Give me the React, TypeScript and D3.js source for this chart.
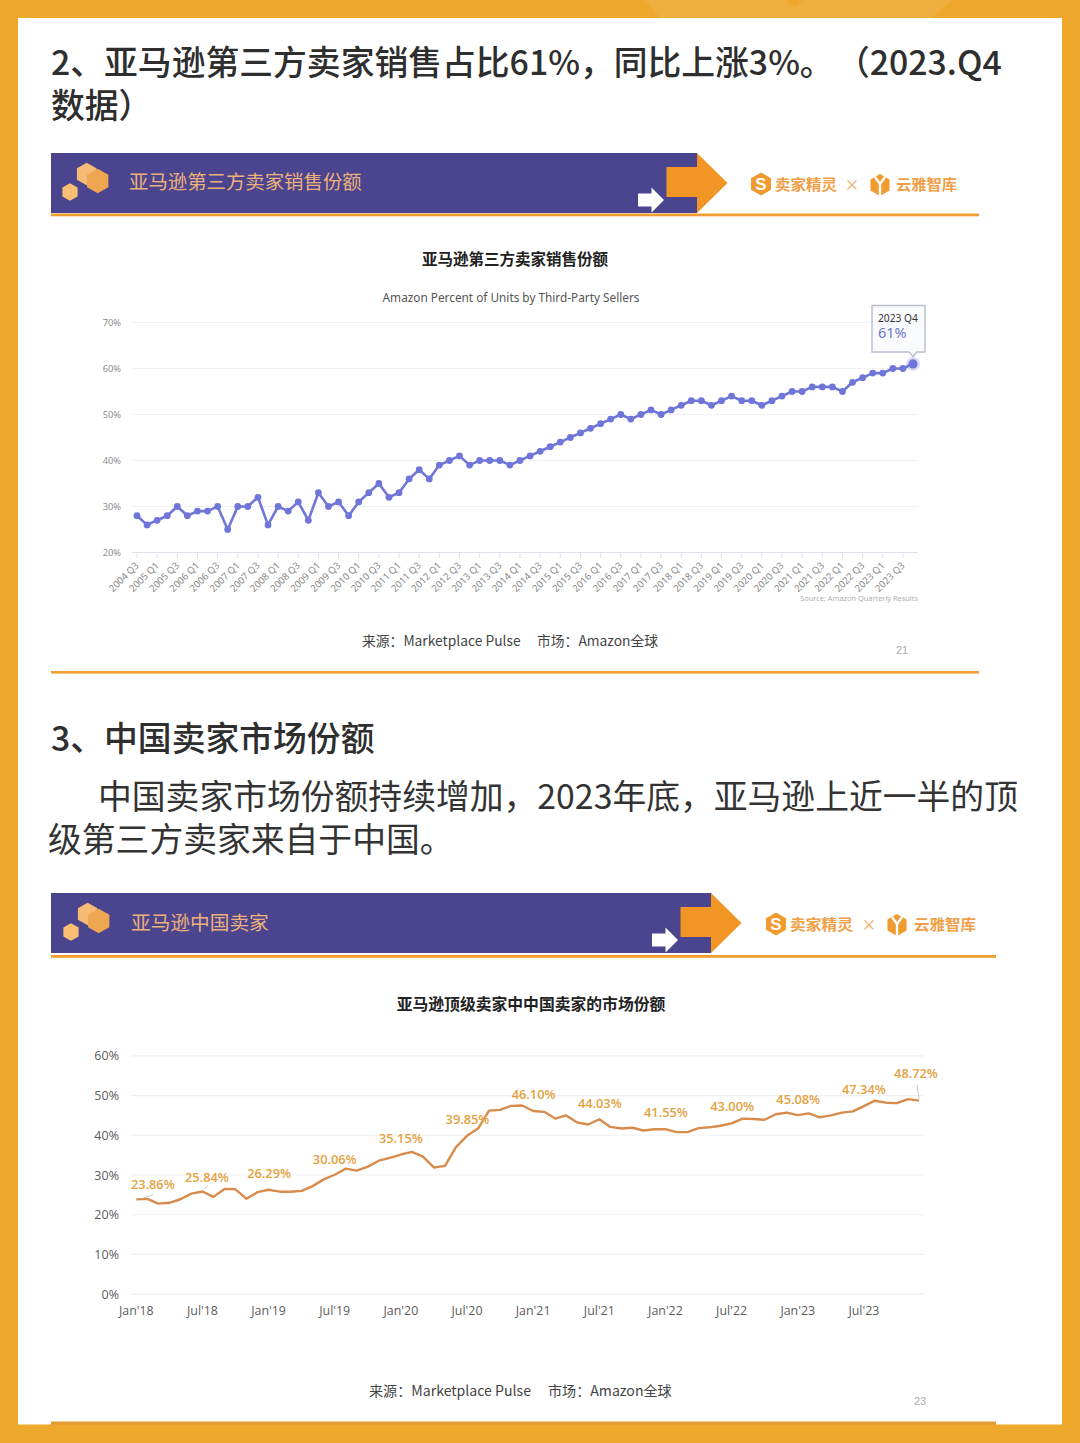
import React from "react";
import * as d3 from "d3";

const CJK = "'Noto Sans CJK SC', 'Noto Sans', sans-serif";

// ---------- chart 1 data ----------
const unitStartYear = 2004;
const thirdPartyShare = [
  28, 26, 27, 28, 30, 28, 29, 29, 30, 25, 30, 30, 32, 26, 30, 29, 31, 27, 33, 30,
  31, 28, 31, 33, 35, 32, 33, 36, 38, 36, 39, 40, 41, 39, 40, 40, 40, 39, 40, 41,
  42, 43, 44, 45, 46, 47, 48, 49, 50, 49, 50, 51, 50, 51, 52, 53, 53, 52, 53, 54,
  53, 53, 52, 53, 54, 55, 55, 56, 56, 56, 55, 57, 58, 59, 59, 60, 60, 61,
];
const quarterLabels = thirdPartyShare.map((_, i) => {
  const q = i + 2;
  return `${unitStartYear + Math.floor(q / 4)} Q${(q % 4) + 1}`;
});
const shareTicks = [20, 30, 40, 50, 60, 70];

// ---------- chart 2 data ----------
const chinaShare = [
  23.86, 24.0, 22.8, 23.0, 23.9, 25.3, 25.84, 24.5, 26.5, 26.4, 24.0, 25.7,
  26.29, 25.8, 25.8, 26.0, 27.2, 28.9, 30.06, 31.6, 31.1, 32.1, 33.6, 34.3,
  35.15, 35.8, 34.6, 31.9, 32.3, 37.0, 39.85, 41.7, 46.2, 46.4, 47.4, 47.5,
  46.1, 45.9, 44.2, 45.0, 43.2, 42.7, 44.03, 42.1, 41.7, 41.9, 41.2, 41.5,
  41.55, 40.8, 40.8, 41.8, 42.0, 42.4, 43.0, 44.2, 44.1, 43.9, 45.3, 45.7,
  45.08, 45.5, 44.5, 45.0, 45.7, 46.0, 47.34, 48.7, 48.2, 48.1, 49.1, 48.72,
];
const monthTickIndex = [0, 6, 12, 18, 24, 30, 36, 42, 48, 54, 60, 66];
const monthTickLabels = ["Jan'18", "Jul'18", "Jan'19", "Jul'19", "Jan'20", "Jul'20", "Jan'21", "Jul'21", "Jan'22", "Jul'22", "Jan'23", "Jul'23"];
const chinaTicks = [0, 10, 20, 30, 40, 50, 60];
const labelledIndex = [0, 6, 12, 18, 24, 30, 36, 42, 48, 54, 60, 66, 71];
const labelTexts = ["23.86%", "25.84%", "26.29%", "30.06%", "35.15%", "39.85%", "46.10%", "44.03%", "41.55%", "43.00%", "45.08%", "47.34%", "48.72%"];
const labelDx = [16.5, 4.5, 0.5, 0, 0, 0.5, 0.5, 0.5, 0.5, 0.5, 0.5, 0, -3];
const labelDy = [-15, -14.5, -16.5, -15.5, -16.5, -16, -17, -16, -16.5, -16.5, -16, -16.5, -27.5];

const x1 = d3.scaleLinear().domain([0, thirdPartyShare.length - 1]).range([137, 913]);
const y1 = d3.scaleLinear().domain([20, 70]).range([552.5, 322.5]);
const x2 = d3.scaleLinear().domain([0, chinaShare.length - 1]).range([136.3, 919]);
const y2 = d3.scaleLinear().domain([0, 60]).range([1294.2, 1055.8]);

const line1 = d3.line<number>().x((_, i) => x1(i)).y((d) => y1(d));
const line2 = d3.line<number>().x((_, i) => x2(i)).y((d) => y2(d));

const hex = (cx: number, cy: number, r: number) =>
  d3.range(6).map((i) => {
    const a = (Math.PI / 3) * i - Math.PI / 2;
    return `${cx + r * Math.cos(a)},${cy + r * Math.sin(a)}`;
  }).join(" ");

function Banner(p: {
  y: number; right: number; ruleEnd: number; ruleDy: number; title: string; titleX: number; titleSize: number; titleDy: number; iconDx: number;
  sx: number; t1: number; t1w: number; mul: number; yx: number; t2: number; t2w: number;
}) {
  const { y, right, ruleEnd, ruleDy, title, titleX, titleSize, titleDy, iconDx, sx, t1, t1w, mul, yx, t2, t2w } = p;
  const mid = y + 30;
  return (
    <g>
      <rect x={51} y={y} width={right - 51} height={60} fill="#4A458E" />
      <rect x={51} y={y + 60.5 + ruleDy} width={ruleEnd - 51} height={2.8} fill="#EE9E33" />
      <polygon
        points={`${right - 30.5},${y + 14} ${right},${y + 14} ${right},${y} ${right + 30.5},${mid} ${right},${y + 60} ${right},${y + 44} ${right - 30.5},${y + 44}`}
        fill="#F19524"
      />
      <polygon
        points={`${right - 59},${y + 40.5} ${right - 45.5},${y + 40.5} ${right - 45.5},${y + 34.5} ${right - 33},${y + 47} ${right - 45.5},${y + 59.5} ${right - 45.5},${y + 53.5} ${right - 59},${y + 53.5}`}
        fill="#fff"
      />
      <polygon points={hex(86.7 + iconDx, y + 21, 11.3)} fill="#F6BB76" />
      <polygon points={hex(97.7 + iconDx, y + 28, 12.3)} fill="#EFA650" />
      <polygon points={hex(70 + iconDx, y + 39, 8.8)} fill="#FBBE72" />
      <text x={titleX} y={y + 35.5 + titleDy} fontFamily={CJK} fontSize={titleSize} fill="#EDB07A">{title}</text>
      <polygon points={hex(sx, y + 31, 11.5)} fill="#F19A2E" />
      <text x={sx} y={y + 36.5} fontFamily="'Liberation Sans', sans-serif" fontWeight={700} fontSize={17} textAnchor="middle" fill="#fff">S</text>
      <text x={t1} y={y + 37} fontFamily={CJK} fontWeight={700} fontSize={15} textLength={t1w} lengthAdjust="spacingAndGlyphs" fill="#F0A048">卖家精灵</text>
      <text x={mul} y={y + 37} fontFamily={CJK} fontSize={15} textAnchor="middle" fill="#EFA65A">×</text>
      <polygon points={hex(yx, y + 32, 11)} fill="#F19A2E" />
      <path d={`M${yx - 5} ${y + 24}L${yx} ${y + 31}L${yx + 5} ${y + 24}M${yx} ${y + 31}V${y + 43}`} fill="none" stroke="#fff" strokeWidth={2.4} />
      <text x={t2} y={y + 37} fontFamily={CJK} fontWeight={700} fontSize={15} textLength={t2w} lengthAdjust="spacingAndGlyphs" fill="#F0A048">云雅智库</text>
    </g>
  );
}

export default function App() {
  const last1 = thirdPartyShare.length - 1;
  return (
    <svg width={1080} height={1443} viewBox="0 0 1080 1443" style={{ position: "absolute", left: 0, top: 0, display: "block" }}>
      {/* frame */}
      <rect width={1080} height={1443} fill="#EEA82B" />
      <polygon points="645,0 660,18 932,18 952,0" fill="#EFAE3E" />
      <polygon points="786,0 804,0 795,8" fill="#EEA82B" />
      <rect x={18} y={18} width={1044} height={1406.5} fill="#fff" />
      <rect x={51} y={1421.5} width={945} height={4} fill="#E29A34" />
      <rect x={51} y={1424.5} width={945} height={2} fill="#EEA82B" />

      {/* headings */}
      <g fontFamily={CJK} fill="#2E2E2E" fontSize={33.8}>
        <text x={51} y={75} fontWeight={500}>2、亚马逊第三方卖家销售占比61%，同比上涨3%。</text>
        <text x={836} y={75} fontWeight={500}>（2023.Q4</text>
        <text x={51} y={118} fontWeight={500}>数据）</text>
        <text x={51} y={751} fontWeight={500}>3、中国卖家市场份额</text>
        <text x={98} y={809} fill="#333">中国卖家市场份额持续增加，2023年底，亚马逊上近一半的顶</text>
        <text x={48} y={852} fill="#333">级第三方卖家来自于中国。</text>
      </g>

      <Banner y={153} right={697} ruleEnd={979} ruleDy={0} title="亚马逊第三方卖家销售份额" titleX={129} titleSize={19.4} titleDy={0} iconDx={0} sx={761} t1={775} t1w={62} mul={852} yx={880} t2={896} t2w={61} />

      {/* chart 1 */}
      <text x={515} y={265} fontFamily={CJK} fontWeight={700} fontSize={15.5} textAnchor="middle" fill="#222">亚马逊第三方卖家销售份额</text>
      <text x={511} y={302} fontFamily="'Noto Sans', sans-serif" fontSize={11.8} textAnchor="middle" fill="#555">Amazon Percent of Units by Third-Party Sellers</text>
      {shareTicks.map((t) => (
        <g key={t}>
          <line x1={132} x2={918} y1={y1(t)} y2={y1(t)} stroke={t === 20 ? "#DCE1EA" : "#F1F2F4"} strokeWidth={1.2} />
          <text x={121} y={y1(t) + 3.3} fontFamily="'Noto Sans', sans-serif" fontSize={9.3} textAnchor="end" fill="#8E8E8E">{t}%</text>
        </g>
      ))}
      {quarterLabels.map((q, i) => i % 2 === 0 && i < last1 ? (
        <g key={q}>
          <line x1={x1(i)} x2={x1(i)} y1={552.5} y2={558} stroke="#DCE1EA" />
          <text transform={`translate(${x1(i) + 2.5},${566}) rotate(-45)`} fontFamily="'Noto Sans', sans-serif" fontSize={9.6} textAnchor="end" fill="#8A8A8A">{q}</text>
        </g>
      ) : null)}
      <path d={line1(thirdPartyShare) ?? ""} fill="none" stroke="#7076D8" strokeWidth={2.6} strokeLinejoin="round" />
      {thirdPartyShare.map((v, i) => (
        <circle key={i} cx={x1(i)} cy={y1(v)} r={i === last1 ? 4.6 : 3.4} fill="#6F75D9" />
      ))}
      <circle cx={x1(last1)} cy={y1(thirdPartyShare[last1])} r={7} fill="#7076D8" opacity={0.25} />
      <path d="M872 305.5H925V352H917L913 356.5L909 352H872Z" fill="#FAFBFD" stroke="#B9BDCF" strokeWidth={1.4} />
      <text x={878} y={321.5} fontFamily="'Noto Sans', sans-serif" fontSize={10.2} fill="#333">{quarterLabels[last1]}</text>
      <text x={878} y={338} fontFamily="'Noto Sans', sans-serif" fontSize={14.5} fill="#6F75D0">{thirdPartyShare[last1]}%</text>
      <text x={918} y={601} fontFamily="'Noto Sans', sans-serif" fontSize={7.4} textAnchor="end" fill="#B0B0B0">Source: Amazon Quarterly Results</text>
      <text x={362} y={646} fontFamily={CJK} fontSize={13.8} fill="#444">来源：Marketplace Pulse</text>
      <text x={537} y={646} fontFamily={CJK} fontSize={13.8} fill="#444">市场：Amazon全球</text>
      <text x={902} y={654} fontFamily="'Liberation Sans', sans-serif" fontSize={11} textAnchor="middle" fill="#AAAAAA">21</text>
      <rect x={51} y={671} width={928} height={2.6} fill="#EE9E33" />

      <Banner y={893} right={711} ruleEnd={996} ruleDy={1.5} title="亚马逊中国卖家" titleX={131} titleSize={19.7} titleDy={1} iconDx={1} sx={776} t1={790} t1w={63} mul={869} yx={897} t2={914} t2w={62} />

      {/* chart 2 */}
      <text x={531} y={1010} fontFamily={CJK} fontWeight={700} fontSize={15.8} textAnchor="middle" fill="#222">亚马逊顶级卖家中中国卖家的市场份额</text>
      {chinaTicks.map((t) => (
        <g key={t}>
          <line x1={131} x2={924} y1={y2(t)} y2={y2(t)} stroke="#F0F0F0" strokeWidth={1.2} />
          <text x={119} y={y2(t) + 4.5} fontFamily="'Open Sans', sans-serif" fontSize={12.5} textAnchor="end" fill="#5C5C5C">{t}%</text>
        </g>
      ))}
      {monthTickIndex.map((idx, k) => (
        <text key={idx} x={x2(idx)} y={1315} fontFamily="'Open Sans', sans-serif" fontSize={12.4} textAnchor="middle" fill="#5C5C5C">{monthTickLabels[k]}</text>
      ))}
      <path d={line2(chinaShare) ?? ""} fill="none" stroke="#D98B4C" strokeWidth={2.4} strokeLinejoin="round" />
      <path d={`M${x2(0) + 6} ${y2(chinaShare[0]) - 1}L${x2(0) + 17} ${y2(chinaShare[0]) - 5}`} stroke="#C5D0C5" fill="none" />
      <path d={`M${x2(6) + 1} ${y2(chinaShare[6]) - 1}L${x2(6) + 5} ${y2(chinaShare[6]) - 6}`} stroke="#C5D0C5" fill="none" />
      <path d={`M${x2(71)} ${y2(chinaShare[71]) - 1}L${x2(71) - 2} ${y2(chinaShare[71]) - 16}`} stroke="#C8C8C8" fill="none" />
      {labelledIndex.map((idx, k) => (
        <text key={idx} x={x2(idx) + labelDx[k]} y={y2(chinaShare[idx]) + labelDy[k] + 4.5} fontFamily="'Open Sans', sans-serif" fontWeight={600} fontSize={12.8} textAnchor="middle" fill="#E3A23F">{labelTexts[k]}</text>
      ))}
      <text x={369} y={1396} fontFamily={CJK} fontSize={14.1} fill="#444">来源：Marketplace Pulse</text>
      <text x={548} y={1396} fontFamily={CJK} fontSize={14.1} fill="#444">市场：Amazon全球</text>
      <text x={920} y={1405} fontFamily="'Liberation Sans', sans-serif" fontSize={11} textAnchor="middle" fill="#AAAAAA">23</text>
    </svg>
  );
}
